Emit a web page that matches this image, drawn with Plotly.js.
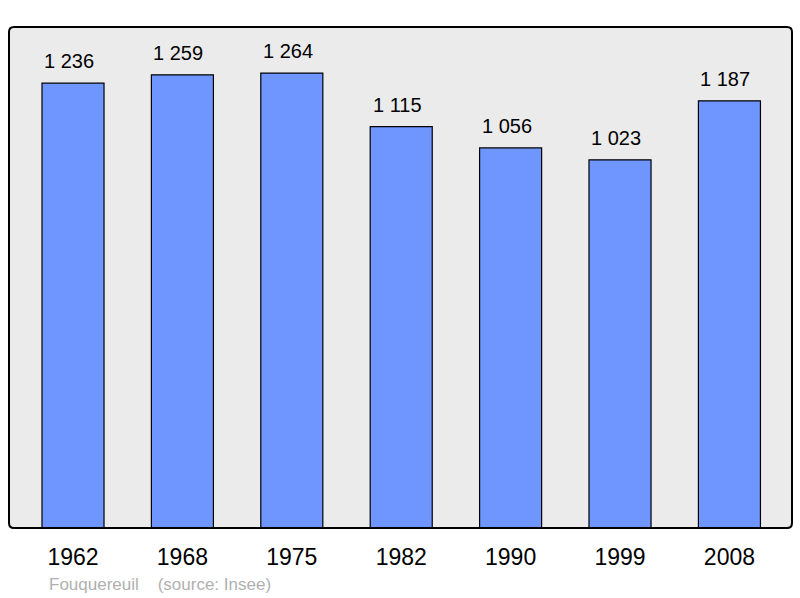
<!DOCTYPE html>
<html>
<head>
<meta charset="utf-8">
<script src="https://cdn.plot.ly/plotly-3.0.1.min.js"></script>
<style>html,body{margin:0;padding:0;background:#fff;}#chart{width:800px;height:598px;}</style>
</head>
<body>
<div id="chart"></div>
<script>
const years = ["1962", "1968", "1975", "1982", "1990", "1999", "2008"];
const population = [1236, 1259, 1264, 1115, 1056, 1023, 1187];
const sourceText = "Fouquereuil\u00a0\u00a0\u00a0\u00a0(source: Insee)";

function fmt(v) {
  return String(v).replace(/\B(?=(\d{3})+(?!\d))/g, " ");
}

const trace = {
  type: "bar",
  x: years,
  y: population,
  width: 0.567,
  marker: { color: "#6f96ff", line: { color: "#000", width: 1.2 } },
  hoverinfo: "none"
};

const annotations = years.map((y, i) => ({
  x: i, y: population[i], xref: "x", yref: "y",
  text: fmt(population[i]), showarrow: false,
  yanchor: "bottom", yshift: 9, xshift: -4,
  font: { family: "Liberation Sans, Arial, sans-serif", size: 20, color: "#000" }
}));
annotations.push({
  xref: "paper", yref: "paper", x: 0.049, y: -0.113,
  xanchor: "left", yanchor: "middle",
  text: sourceText, showarrow: false,
  font: { family: "Liberation Sans, Arial, sans-serif", size: 17, color: "#b0b0b0" }
});

// rounded frame path in paper coordinates
const rx = 5 / 783, ry = 5 / 501;
const framePath = `M ${rx},0 L ${1 - rx},0 Q 1,0 1,${ry} L 1,${1 - ry} Q 1,1 ${1 - rx},1 L ${rx},1 Q 0,1 0,${1 - ry} L 0,${ry} Q 0,0 ${rx},0 Z`;

const layout = {
  width: 800, height: 598,
  margin: { l: 9, r: 8, t: 27, b: 70 },
  paper_bgcolor: "#ffffff",
  plot_bgcolor: "#ebebeb",
  showlegend: false,
  bargap: 0,
  xaxis: {
    type: "category",
    range: [-0.585, 6.572],
    showgrid: false, zeroline: false, showline: false,
    ticks: "outside", ticklen: 8, tickcolor: "rgba(0,0,0,0)",
    tickfont: { family: "Liberation Sans, Arial, sans-serif", size: 23, color: "#000" },
    fixedrange: true
  },
  yaxis: {
    range: [0, 1392],
    showgrid: false, zeroline: false, showline: false,
    showticklabels: false, ticks: "",
    fixedrange: true
  },
  shapes: [{
    type: "path", xref: "paper", yref: "paper",
    path: framePath,
    line: { color: "#000", width: 2 },
    fillcolor: "rgba(0,0,0,0)", layer: "above"
  }],
  annotations: annotations
};

Plotly.newPlot("chart", [trace], layout, { staticPlot: true, displayModeBar: false });
</script>
</body>
</html>
